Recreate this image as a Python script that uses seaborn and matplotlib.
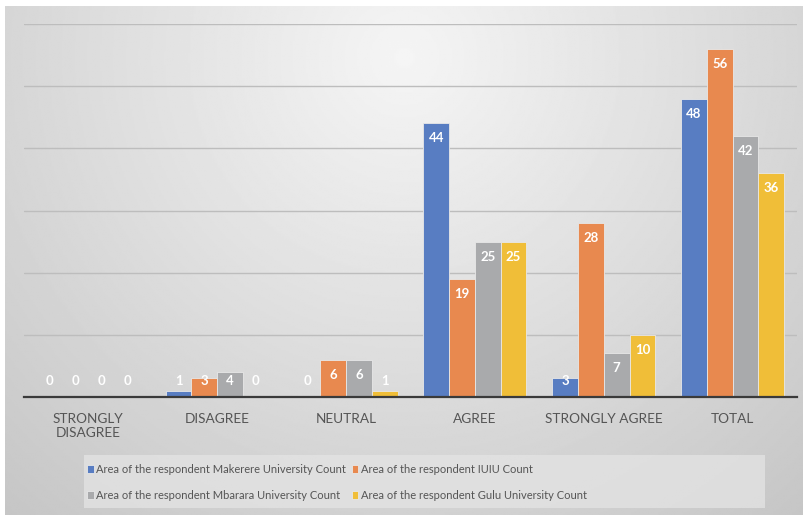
import numpy as np
import pandas as pd
import matplotlib.pyplot as plt
import matplotlib.patches as mpatches
import seaborn as sns

categories = ["STRONGLY\nDISAGREE", "DISAGREE", "NEUTRAL", "AGREE", "STRONGLY AGREE", "TOTAL"]
series = ["Area of the respondent Makerere University Count",
          "Area of the respondent IUIU Count",
          "Area of the respondent Mbarara University Count",
          "Area of the respondent Gulu University Count"]
makerere = [0, 1, 0, 44, 3, 48]
iuiu = [0, 3, 6, 19, 28, 56]
mbarara = [0, 4, 6, 25, 7, 42]
gulu = [0, 0, 1, 25, 10, 36]
colors = ["#587DC2", "#E8894F", "#A9AAAC", "#F0BE38"]

rows = []
for name, vals in zip(series, [makerere, iuiu, mbarara, gulu]):
    for c, v in zip(categories, vals):
        rows.append({"category": c, "series": name, "count": v})
df = pd.DataFrame(rows)

sns.set_style("white")
plt.rcParams["font.family"] = ["Lato", "DejaVu Sans"]

fig = plt.figure(figsize=(8.04, 5.15), dpi=100)
fig.patch.set_facecolor("white")

# gradient background panel
bg = fig.add_axes([5 / 804, 0, 1 - 5 / 804, 1 - 6 / 515])
yy, xx = np.mgrid[0:1:300j, 0:1:500j]
r = np.sqrt(((xx - 0.5) / 0.7) ** 2 + ((yy - 0.1) / 1.1) ** 2)
bg.imshow(0.96 - 0.17 * np.clip(r, 0, 1.3), cmap="gray", vmin=0, vmax=1,
          aspect="auto", extent=[0, 1, 1, 0])
bg.axis("off")

# legend background box
fig.patches.append(mpatches.Rectangle((84 / 804, 1 - 508 / 515), 681 / 804, 53 / 515,
                                      transform=fig.transFigure, facecolor="#e4e4e4",
                                      alpha=0.75, edgecolor="none", zorder=1))

ax = fig.add_axes([24 / 804, 1 - 397 / 515, 773 / 804, 373 / 515])
ax.patch.set_alpha(0)
sns.barplot(data=df, x="category", y="count", hue="series", palette=colors,
            saturation=1, width=0.8, ax=ax, edgecolor="#e8e8e8", linewidth=0.6,
            legend=True)

ax.set_ylim(0, 60)
ax.set_yticks(range(0, 61, 10))
ax.yaxis.grid(True, color="#bdbdbd", linewidth=1)
ax.set_axisbelow(True)
ax.set_yticklabels([])
ax.tick_params(left=False, bottom=False)
ax.set_xlabel("")
ax.set_ylabel("")
for s in ["top", "right", "left"]:
    ax.spines[s].set_visible(False)
ax.spines["bottom"].set_color("#3a3a3a")
ax.spines["bottom"].set_linewidth(1.6)
for lbl in ax.get_xticklabels():
    lbl.set_fontsize(9.8)
    lbl.set_color("#555555")
ax.tick_params(axis="x", pad=8)

for cont in ax.containers:
    for bar in cont:
        v = bar.get_height()
        ax.text(bar.get_x() + bar.get_width() / 2, max(v - 2.4, 2.6), f"{v:.0f}",
                ha="center", va="center", color="white", fontsize=9.5, fontweight="bold")

handles, labels = ax.get_legend_handles_labels()
ax.get_legend().remove()
order = [0, 2, 1, 3]
leg = fig.legend([handles[i] for i in order], [labels[i] for i in order],
                 loc="upper left", bbox_to_anchor=(78 / 804, 1 - 455 / 515), ncol=2,
                 fontsize=8, frameon=False, handlelength=0.6, handleheight=0.6,
                 handletextpad=0.25, columnspacing=0.5, labelspacing=1.35, borderpad=0.3)
for t in leg.get_texts():
    t.set_color("#555555")

fig.savefig("out.png", dpi=100)
